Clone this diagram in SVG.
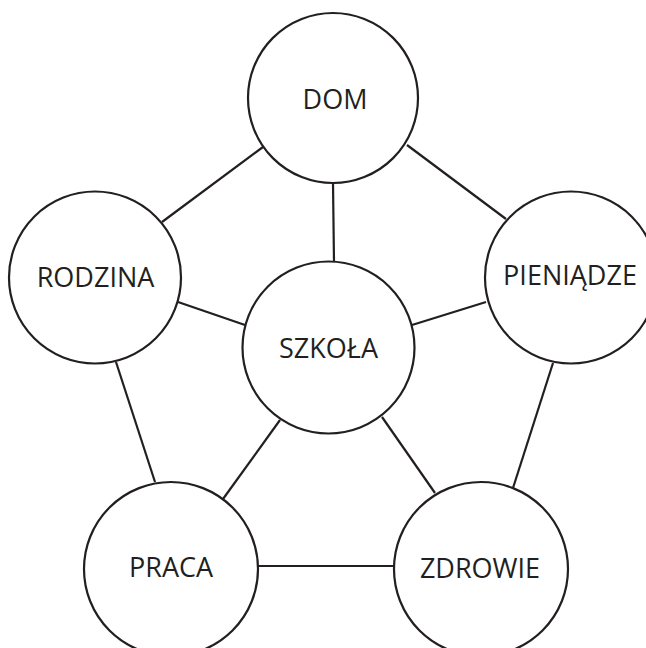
<svg xmlns="http://www.w3.org/2000/svg" width="646" height="648" viewBox="0 0 646 648">
<style>
  .node circle { fill: #ffffff; stroke: #231f20; stroke-width: 2.2; }
  .node text { font-family: "Open Sans", "Noto Sans", "DejaVu Sans", sans-serif; font-size: 27px; fill: #231f20; text-anchor: middle; }
  #connectors line { stroke: #231f20; stroke-width: 2.2; }
</style>
<rect width="646" height="648" fill="#ffffff"/>
<g id="connectors">
  <line x1="263" y1="147" x2="162" y2="222"/>
  <line x1="407" y1="145" x2="506" y2="219"/>
  <line x1="333" y1="183" x2="334" y2="262"/>
  <line x1="178" y1="302" x2="245" y2="325"/>
  <line x1="486" y1="302" x2="412" y2="325"/>
  <line x1="116" y1="362" x2="155" y2="482"/>
  <line x1="553" y1="363" x2="513" y2="488"/>
  <line x1="280" y1="420" x2="223" y2="499"/>
  <line x1="382" y1="417" x2="435" y2="493"/>
  <line x1="258" y1="566" x2="394" y2="566"/>
</g>
<g id="dom" class="node">
  <circle cx="333" cy="98" r="85"/>
  <text x="335" y="109">DOM</text>
</g>
<g id="rodzina" class="node">
  <circle cx="95" cy="277.5" r="86"/>
  <text x="95.5" y="287">RODZINA</text>
</g>
<g id="pieniadze" class="node">
  <circle cx="571" cy="277.5" r="86"/>
  <text x="570" y="285">PIENIĄDZE</text>
</g>
<g id="szkola" class="node">
  <circle cx="328.5" cy="347.5" r="86"/>
  <text x="328.5" y="358">SZKOŁA</text>
</g>
<g id="praca" class="node">
  <circle cx="171" cy="569" r="87"/>
  <text x="171" y="577">PRACA</text>
</g>
<g id="zdrowie" class="node">
  <circle cx="481" cy="569" r="87"/>
  <text x="480" y="578">ZDROWIE</text>
</g>
</svg>
